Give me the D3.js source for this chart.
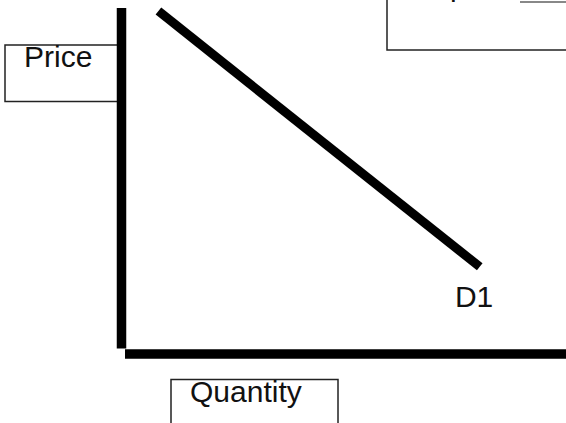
<!DOCTYPE html>
<html>
<head>
<meta charset="utf-8">
<script src="https://cdn.jsdelivr.net/npm/d3@7"></script>
<style>
  body { margin: 0; background: #fff; }
  svg { display: block; font-family: "Liberation Sans", Arial, sans-serif; }
  .box { fill: #fff; stroke: #222; stroke-width: 1.5; }
  .lbl { font-size: 30px; fill: #111; }
</style>
</head>
<body>
<script>
// demand curve D1, endpoints in quantity / price units (0-100)
let demandQty = [9.1, 79.8]
let demandPrice = [98.3, 25.9]
let curveNames = ['D1']
let labelQty = [75.0]
let labelPrice = [13.5]
let axisTitles = ['Price', 'Quantity']

let width = 566
let height = 423

let svg = d3.select('body')
    .append('svg')
    .attr('width', width)
    .attr('height', height)

let xScale = d3.scaleLinear()
    .domain([0, 100])
    .range([121.5, 566])

let yScale = d3.scaleLinear()
    .domain([0, 100])
    .range([353.5, 8])

// top right legend box, cut off by the frame
svg.append('rect').attr('class', 'box')
    .attr('x', 387).attr('y', -10)
    .attr('width', 200).attr('height', 60)
svg.append('text').attr('class', 'lbl')
    .attr('x', 450).attr('y', -4)
    .text('p')
svg.append('line')
    .attr('x1', 520).attr('x2', 566)
    .attr('y1', 2).attr('y2', 2)
    .attr('stroke', '#888').attr('stroke-width', 2)

// Price title box
svg.append('rect').attr('class', 'box')
    .attr('x', 5).attr('y', 45)
    .attr('width', 113).attr('height', 56.5)
svg.append('text').attr('class', 'lbl')
    .attr('x', 24).attr('y', 67)
    .text(axisTitles[0])

// Quantity title box
svg.append('rect').attr('class', 'box')
    .attr('x', 171).attr('y', 379.5)
    .attr('width', 167).attr('height', 60)
svg.append('text').attr('class', 'lbl')
    .attr('x', 190).attr('y', 401.5)
    .text(axisTitles[1])

// axes
svg.append('line')
    .attr('x1', xScale(0)).attr('x2', xScale(0))
    .attr('y1', yScale(100)).attr('y2', yScale(0) - 5)
    .attr('stroke', '#000').attr('stroke-width', 9.5)
svg.append('line')
    .attr('x1', xScale(0) + 3.5).attr('x2', xScale(100))
    .attr('y1', yScale(0) + 0.5).attr('y2', yScale(0) + 0.5)
    .attr('stroke', '#000').attr('stroke-width', 9.5)

// demand curve
let pts = demandQty.map((q, i) => [xScale(q), yScale(demandPrice[i])])
svg.append('path')
    .attr('d', d3.line()(pts))
    .attr('stroke', '#000')
    .attr('stroke-width', 9)
    .attr('stroke-linecap', 'square')
    .attr('fill', 'none')

svg.selectAll('.curveLabel')
    .data(curveNames)
    .enter().append('text')
    .attr('class', 'lbl curveLabel')
    .attr('x', (d, i) => xScale(labelQty[i]))
    .attr('y', (d, i) => yScale(labelPrice[i]))
    .text(d => d)
</script>
</body>
</html>
